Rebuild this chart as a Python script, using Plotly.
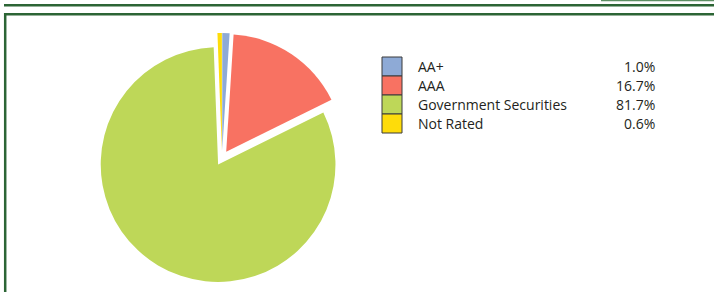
import plotly.graph_objects as go

# ---- data ----
labels = ["AA+", "AAA", "Government Securities", "Not Rated"]
values = [1.0, 16.7, 81.7, 0.6]
pct_text = ["1.0%", "16.7%", "81.7%", "0.6%"]

# ---- style ----
slice_colors = ["#8eaad6", "#f87262", "#bed758", "#fedc0a"]
W, H = 714, 292
GREEN = "#2c6535"
FONT = "Open Sans"


def px(x):
    return x / W


def py(y):
    return 1 - y / H


fig = go.Figure()

# pie: box of 250 px centred at (222, 158)
cx, cy, box = 222, 158, 250
fig.add_trace(go.Pie(
    labels=labels,
    values=values,
    sort=False,
    direction="clockwise",
    rotation=0,
    pull=[0.065] * len(values),
    marker=dict(colors=slice_colors, line=dict(width=0)),
    textinfo="none",
    hoverinfo="label+percent",
    showlegend=False,
    domain=dict(x=[px(cx - box / 2), px(cx + box / 2)],
                y=[py(cy + box / 2), py(cy - box / 2)]),
))

shapes = []
annotations = []

# frame lines
shapes.append(dict(type="line", xref="paper", yref="paper",
                   x0=px(4), x1=px(W + 2), y0=py(5.2), y1=py(5.2),
                   line=dict(color=GREEN, width=2.5)))
shapes.append(dict(type="line", xref="paper", yref="paper",
                   x0=px(4), x1=px(W + 2), y0=py(14.2), y1=py(14.2),
                   line=dict(color=GREEN, width=2.5)))
shapes.append(dict(type="line", xref="paper", yref="paper",
                   x0=px(5.2), x1=px(5.2), y0=py(13), y1=py(H + 2),
                   line=dict(color=GREEN, width=2.5)))
shapes.append(dict(type="line", xref="paper", yref="paper",
                   x0=px(601), x1=px(W + 2), y0=py(0.6), y1=py(0.6),
                   line=dict(color="#5e8f63", width=1.5)))

# custom legend table built from the data lists
row0, row_h = 57, 19
for i, (lab, pct, col) in enumerate(zip(labels, pct_text, slice_colors)):
    top = row0 + i * row_h
    shapes.append(dict(type="rect", xref="paper", yref="paper",
                       x0=px(382), x1=px(402), y0=py(top), y1=py(top + row_h),
                       fillcolor=col, line=dict(color="#3a3a3a", width=1)))
    mid = top + row_h / 2
    annotations.append(dict(xref="paper", yref="paper", x=px(416), y=py(mid),
                            xanchor="left", yanchor="middle", showarrow=False,
                            text=lab, font=dict(family=FONT, size=14, color="#231f20")))
    annotations.append(dict(xref="paper", yref="paper", x=px(657), y=py(mid),
                            xanchor="right", yanchor="middle", showarrow=False,
                            text=pct, font=dict(family=FONT, size=14, color="#231f20")))

fig.update_layout(
    width=W, height=H,
    margin=dict(l=0, r=0, t=0, b=0),
    paper_bgcolor="white",
    plot_bgcolor="white",
    shapes=shapes,
    annotations=annotations,
    font=dict(family=FONT),
)

fig.write_html("out.html",
               config={"displayModeBar": False},
               post_script="document.body.style.margin='0px';"
                           "document.body.style.padding='0px';"
                           "document.body.style.overflow='hidden';")
